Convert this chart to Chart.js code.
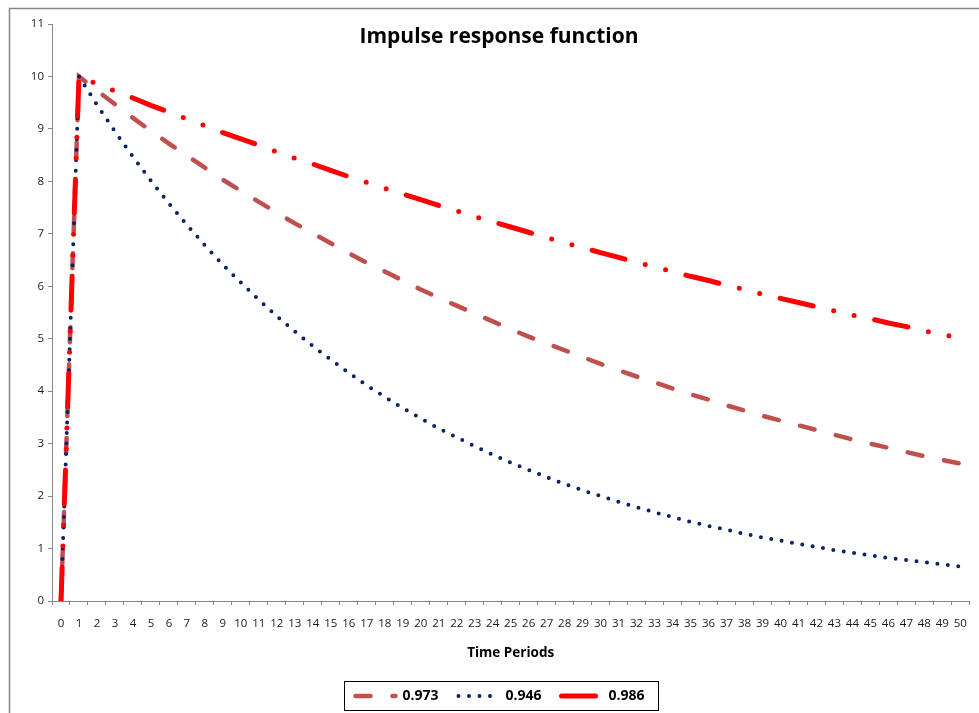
<!DOCTYPE html>
<html>
<head>
<meta charset="utf-8">
<script src="https://cdn.jsdelivr.net/npm/chart.js@4.4.1/dist/chart.umd.min.js"></script>
<style>
  html, body { margin: 0; padding: 0; background: #fff; }
  #wrap { width: 979px; height: 713px; position: relative; }
</style>
</head>
<body>
<div id="wrap"><canvas id="irfChart" width="979" height="713"></canvas></div>
<script>
// periods on the x axis
const periods = ['0','1','2','3','4','5','6','7','8','9','10','11','12','13','14','15','16','17','18','19','20',
  '21','22','23','24','25','26','27','28','29','30','31','32','33','34','35','36','37','38','39','40',
  '41','42','43','44','45','46','47','48','49','50']

// response values
const resp973 = [0, 10, 9.73, 9.47, 9.21, 8.96, 8.72, 8.49, 8.26, 8.03, 7.82, 7.61, 7.40, 7.20, 7.01, 6.82,
  6.63, 6.45, 6.28, 6.11, 5.94, 5.78, 5.63, 5.48, 5.33, 5.18, 5.04, 4.91, 4.78, 4.65, 4.52, 4.40,
  4.28, 4.17, 4.05, 3.94, 3.84, 3.73, 3.63, 3.53, 3.44, 3.35, 3.26, 3.17, 3.08, 3.00, 2.92, 2.84,
  2.76, 2.69, 2.62]
const resp946 = [0, 10, 9.46, 8.95, 8.47, 8.01, 7.58, 7.17, 6.78, 6.41, 6.07, 5.74, 5.43, 5.14, 4.86, 4.60,
  4.35, 4.11, 3.89, 3.68, 3.48, 3.29, 3.12, 2.95, 2.79, 2.64, 2.50, 2.36, 2.23, 2.11, 2.00, 1.89,
  1.79, 1.69, 1.60, 1.51, 1.43, 1.36, 1.28, 1.21, 1.15, 1.09, 1.03, 0.97, 0.92, 0.87, 0.82, 0.78,
  0.74, 0.70, 0.66]
const resp986 = [0, 10, 9.86, 9.72, 9.59, 9.45, 9.32, 9.19, 9.06, 8.93, 8.81, 8.69, 8.56, 8.44, 8.33, 8.21,
  8.09, 7.98, 7.87, 7.76, 7.65, 7.54, 7.44, 7.33, 7.23, 7.13, 7.03, 6.93, 6.83, 6.74, 6.64, 6.55,
  6.46, 6.37, 6.28, 6.19, 6.11, 6.02, 5.94, 5.85, 5.77, 5.69, 5.61, 5.53, 5.45, 5.38, 5.30, 5.23,
  5.15, 5.08, 5.01]

const seriesNames = ['0.973', '0.946', '0.986']
const yTicks = [0, 1, 2, 3, 4, 5, 6, 7, 8, 9, 10, 11]

const fontFam = '"Open Sans", Lato, sans-serif'
const axisGray = '#868686'

// border round the whole chart + box round the legend
const framePlugin = {
  id: 'frame',
  afterLayout(chart) {
    // excel puts title and legend a bit right of centre
    chart.legend.left += 15
    chart.legend.right += 15
    chart.titleBlock.left += 14
    chart.titleBlock.right += 14
  },
  afterDraw(chart) {
    const ctx = chart.ctx
    ctx.save()
    ctx.strokeStyle = axisGray
    ctx.lineWidth = 1.5
    ctx.beginPath()
    ctx.moveTo(9.5, 720)
    ctx.lineTo(9.5, 8.5)
    ctx.lineTo(990, 8.5)
    ctx.stroke()

    const boxes = chart.legend.legendHitBoxes
    if (boxes && boxes.length) {
      let l = Infinity, r = -Infinity, t = Infinity, b = -Infinity
      boxes.forEach(h => {
        l = Math.min(l, h.left); r = Math.max(r, h.left + h.width)
        t = Math.min(t, h.top); b = Math.max(b, h.top + h.height)
      })
      ctx.strokeStyle = '#000'
      ctx.lineWidth = 1
      ctx.strokeRect(Math.round(l - 11) + 0.5, Math.round(t - 8) + 0.5, Math.round(r - l + 25), Math.round(b - t + 15))
    }
    ctx.restore()
  }
}

const data = {
  labels: periods,
  datasets: [
    {
      label: seriesNames[0],
      data: resp973,
      borderColor: '#C0504D',
      borderWidth: 4.5,
      borderDash: [15, 22],
      borderCapStyle: 'round',
      pointRadius: 0,
      tension: 0,
      order: 3
    },
    {
      label: seriesNames[1],
      data: resp946,
      borderColor: '#0B2263',
      borderWidth: 4,
      borderDash: [0, 10.5],
      borderCapStyle: 'round',
      pointRadius: 0,
      tension: 0,
      order: 2
    },
    {
      label: seriesNames[2],
      data: resp986,
      borderColor: '#FF0000',
      borderWidth: 5,
      borderDash: [34, 21, 0, 21, 0, 21],
      borderCapStyle: 'round',
      pointRadius: 0,
      tension: 0,
      order: 1
    }
  ]
}

const config = {
  type: 'line',
  data: data,
  options: {
    responsive: false,
    animation: false,
    layout: { padding: { left: 0, right: 9, top: 0, bottom: 0 } },
    plugins: {
      title: {
        display: true,
        text: 'Impulse response function',
        color: '#000',
        font: { family: fontFam, size: 21, weight: 'bold' },
        padding: { top: 24, bottom: -25.2 }
      },
      legend: {
        position: 'bottom',
        labels: {
          usePointStyle: true,
          pointStyle: 'line',
          pointStyleWidth: 40,
          boxHeight: 13,
          padding: 20,
          color: '#000',
          font: { family: fontFam, size: 14, weight: 'bold' },
          generateLabels: chart => chart.data.datasets.map((ds, i) => ({
            text: ds.label,
            datasetIndex: i,
            fillStyle: ds.borderColor,
            strokeStyle: ds.borderColor,
            fontColor: '#000',
            lineWidth: ds.borderWidth,
            lineDash: ds.borderDash,
            lineCap: 'round',
            pointStyle: 'line',
            hidden: false
          }))
        }
      },
      tooltip: { enabled: false }
    },
    scales: {
      x: {
        type: 'category',
        offset: true,
        grid: { offset: true, drawOnChartArea: false, drawTicks: true, tickLength: 4, color: axisGray },
        border: { display: true, color: axisGray, width: 1 },
        ticks: {
          autoSkip: false, maxRotation: 0, minRotation: 0, padding: 12,
          color: '#1a1a1a', font: { family: fontFam, size: 11.5 }
        },
        title: {
          display: true,
          text: 'Time Periods',
          color: '#000',
          font: { family: fontFam, size: 13.5, weight: 'bold' },
          padding: { top: 0, bottom: 8 }
        },
        afterFit: scale => { scale.height = 68 }
      },
      y: {
        min: 0,
        max: 11,
        afterBuildTicks: scale => { scale.ticks = yTicks.map(v => ({ value: v })) },
        grid: { drawOnChartArea: false, drawTicks: true, tickLength: 4, color: axisGray },
        border: { display: true, color: axisGray, width: 1 },
        ticks: {
          padding: 4,
          color: '#1a1a1a', font: { family: fontFam, size: 11.5 }
        },
        afterFit: scale => { scale.width = 52 }
      }
    }
  },
  plugins: [framePlugin]
}

const irfChart = new Chart(document.querySelector('#irfChart'), config)
</script>
</body>
</html>
